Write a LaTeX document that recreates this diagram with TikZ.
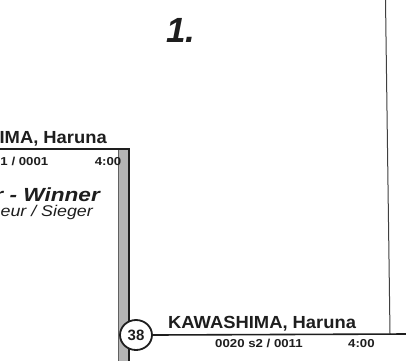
\documentclass[tikz,border=0pt]{standalone}
\usepackage{fontspec}
\setmainfont{Liberation Sans}
\usetikzlibrary{shapes.geometric}
\definecolor{barfill}{HTML}{B4B4B4}
\definecolor{ink}{HTML}{1E1E1E}
\begin{document}
\begin{tikzpicture}[x=1pt,y=-1pt,
  txt/.style={inner sep=0pt, text=ink},
  namefont/.style={txt, font=\fontsize{17.5}{19}\selectfont\bfseries},
  subfont/.style={txt, font=\fontsize{11.5}{13}\selectfont\bfseries},
  winfont/.style={txt, font=\fontsize{19}{21}\selectfont\bfseries\itshape},
  vsfont/.style={txt, font=\fontsize{15.5}{17}\selectfont\itshape},
  placefont/.style={txt, font=\fontsize{35}{40}\selectfont\bfseries\itshape},
  seed/.style={ellipse, draw=ink, line width=1.8pt, fill=white, minimum width=32pt, minimum height=30pt, inner sep=0pt, font=\fontsize{15}{16}\selectfont\bfseries, text=ink},
  heavy/.style={draw=ink, line width=2.2pt},
  thin/.style={draw=ink!85, line width=1pt}
]
\useasboundingbox (0,0) rectangle (406,360);
\clip (0,0) rectangle (406,360);
\fill[white] (0,0) rectangle (406,360);

% place number
\node[placefont, anchor=base west] (place) at (166,42) {1.};

% right vertical line
\coordinate (vtop) at (385.5,0);
\coordinate (vbot) at (390,334);
\draw[thin] (vtop) -- (vbot);

% gray bar
\coordinate (bartl) at (118.5,149);
\coordinate (barbr) at (129,362);
\draw[fill=barfill, draw=ink!70, line width=0.6pt] (bartl) rectangle (barbr);
\coordinate (bartr) at (129,149);
\coordinate (barbot) at (129,362);
\draw[draw=ink, line width=2pt] (bartr) -- (barbot);

% top-left winner line
\coordinate (tl) at (0,149);
\coordinate (tr) at (130,149);
\draw[heavy] (tl) -- (tr);

\node[namefont, anchor=base east] (name1) at (107,143) {\scalebox{1.05}[1]{KAWASHIMA, Haruna}};
\node[subfont, anchor=base east] (sub1) at (48.5,165) {\scalebox{1.15}[1]{s1 / 0001}};
\node[subfont, anchor=base east] (time1) at (121.5,165) {\scalebox{1.15}[1]{4:00}};
\node[winfont, anchor=base east] (win) at (100,201) {\scalebox{1.19}[1]{r - Winner}};
\node[vsfont, anchor=base east] (vs) at (93,216) {\scalebox{1.15}[1]{Vainqueur / Sieger}};

% bottom entry
\node[seed] (c38) at (136,335) {38};
\coordinate (rend) at (406,334);
\draw[draw=ink, line width=1.6pt] (c38.east) -- (rend);
\node[namefont, anchor=base west] (name2) at (168,328) {\scalebox{1.05}[1]{KAWASHIMA, Haruna}};
\node[subfont, anchor=base west] (sub2) at (215,347) {\scalebox{1.15}[1]{0020 s2 / 0011}};
\node[subfont, anchor=base west] (time2) at (348,347) {\scalebox{1.15}[1]{4:00}};
\end{tikzpicture}
\end{document}
